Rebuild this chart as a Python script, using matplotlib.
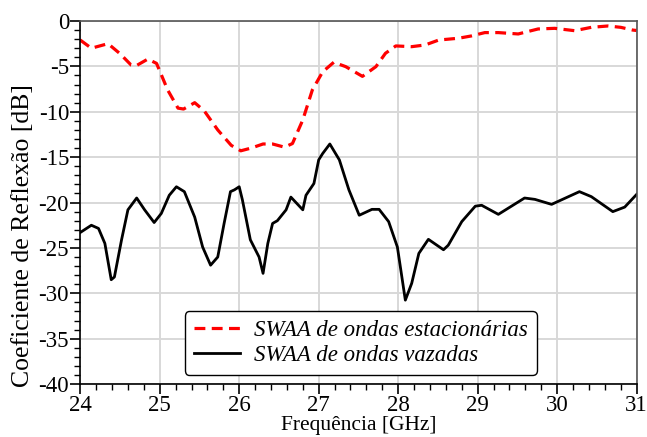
import numpy as np
import matplotlib.pyplot as plt
from matplotlib.ticker import MultipleLocator

# SWAA de ondas estacionárias (tracejado vermelho)
f_sw = [24.00, 24.14, 24.35, 24.50, 24.64, 24.70, 24.85, 24.96, 25.10, 25.23, 25.30,
        25.44, 25.56, 25.73, 25.90, 26.02, 26.15, 26.30, 26.42, 26.57, 26.67, 26.80,
        26.92, 27.05, 27.19, 27.34, 27.55, 27.72, 27.84, 27.97, 28.17, 28.34, 28.51,
        28.76, 28.92, 29.09, 29.26, 29.51, 29.76, 29.97, 30.22, 30.43, 30.64, 30.80,
        30.95, 31.00]
s_sw = [-2.1, -3.0, -2.5, -3.6, -4.85, -4.95, -4.2, -4.67, -7.6, -9.6, -9.7,
        -9.0, -9.9, -12.0, -13.7, -14.3, -14.0, -13.55, -13.55, -13.9, -13.5, -10.9,
        -7.6, -5.6, -4.55, -5.03, -6.1, -5.03, -3.56, -2.75, -2.83, -2.64, -2.1,
        -1.9, -1.65, -1.28, -1.28, -1.43, -0.88, -0.81, -1.07, -0.7, -0.55, -0.7,
        -1.0, -1.05]

# SWAA de ondas vazadas (linha preta)
f_lw = [24.00, 24.14, 24.23, 24.31, 24.39, 24.43, 24.52, 24.60, 24.71, 24.81, 24.93,
        25.02, 25.12, 25.21, 25.31, 25.44, 25.54, 25.64, 25.73, 25.81, 25.89, 25.94,
        26.00, 26.04, 26.14, 26.25, 26.30, 26.36, 26.42, 26.48, 26.59, 26.65, 26.80,
        26.84, 26.94, 27.00, 27.05, 27.14, 27.26, 27.38, 27.51, 27.67, 27.76, 27.88,
        27.99, 28.09, 28.17, 28.26, 28.38, 28.57, 28.63, 28.80, 28.97, 29.05, 29.26,
        29.59, 29.72, 29.93, 30.28, 30.43, 30.70, 30.85, 31.00]
s_lw = [-23.3, -22.5, -22.85, -24.5, -28.5, -28.2, -24.1, -20.8, -19.5, -20.8, -22.2,
        -21.2, -19.2, -18.26, -18.8, -21.6, -24.9, -26.9, -26.0, -22.3, -18.8, -18.6,
        -18.26, -19.7, -24.1, -26.0, -27.8, -24.5, -22.3, -22.0, -20.8, -19.4, -20.8,
        -19.2, -17.9, -15.3, -14.6, -13.55, -15.3, -18.6, -21.4, -20.75, -20.75, -22.1,
        -24.9, -30.75, -28.9, -25.6, -24.05, -25.2, -24.7, -22.1, -20.4, -20.3, -21.3,
        -19.5, -19.65, -20.2, -18.8, -19.35, -21.0, -20.5, -19.1]

plt.rcParams['font.family'] = ['Liberation Serif', 'DejaVu Serif']
plt.rcParams['axes.unicode_minus'] = False

fig, ax = plt.subplots(figsize=(6.47, 4.37), dpi=100)
fig.subplots_adjust(left=0.124, right=0.984, top=0.952, bottom=0.121)

ax.plot(f_sw, s_sw, color='#ff0000', lw=2.3, ls=(0, (3.4, 2.0)),
        label='SWAA de ondas estacionárias')
ax.plot(f_lw, s_lw, color='black', lw=2.0, label='SWAA de ondas vazadas')

ax.set_xlim(24, 31)
ax.set_ylim(-40, 0)
ax.xaxis.set_major_locator(MultipleLocator(1))
ax.xaxis.set_minor_locator(MultipleLocator(0.2))
ax.yaxis.set_major_locator(MultipleLocator(5))
ax.yaxis.set_minor_locator(MultipleLocator(1))
ax.tick_params(which='major', direction='out', length=7, width=1.2, labelsize=16.5, pad=1)
ax.tick_params(which='minor', direction='out', length=4, width=1.0)
ax.grid(True, which='major', color='#d8d8d8', lw=1.4)
ax.set_axisbelow(True)

for side in ('top', 'right'):
    ax.spines[side].set_color('#555555')
    ax.spines[side].set_linewidth(1.2)
for side in ('left', 'bottom'):
    ax.spines[side].set_linewidth(1.2)

ax.set_xlabel('Frequência [GHz]', fontsize=15.5, va='top')
ax.xaxis.set_label_coords(0.5, -0.088)
ax.set_ylabel('Coeficiente de Reflexão [dB]', fontsize=18.5, va='center')
ax.yaxis.set_label_coords(-0.102, 0.41)

leg = ax.legend(loc='lower left', bbox_to_anchor=(0.188, 0.025), borderaxespad=0,
                prop={'style': 'italic', 'size': 16.5}, frameon=True, fancybox=True,
                edgecolor='black', framealpha=1, handlelength=2.0,
                labelspacing=0.15, borderpad=0.4, handletextpad=0.6)
leg.get_frame().set_linewidth(1.0)

fig.savefig('out.png', dpi=100)
